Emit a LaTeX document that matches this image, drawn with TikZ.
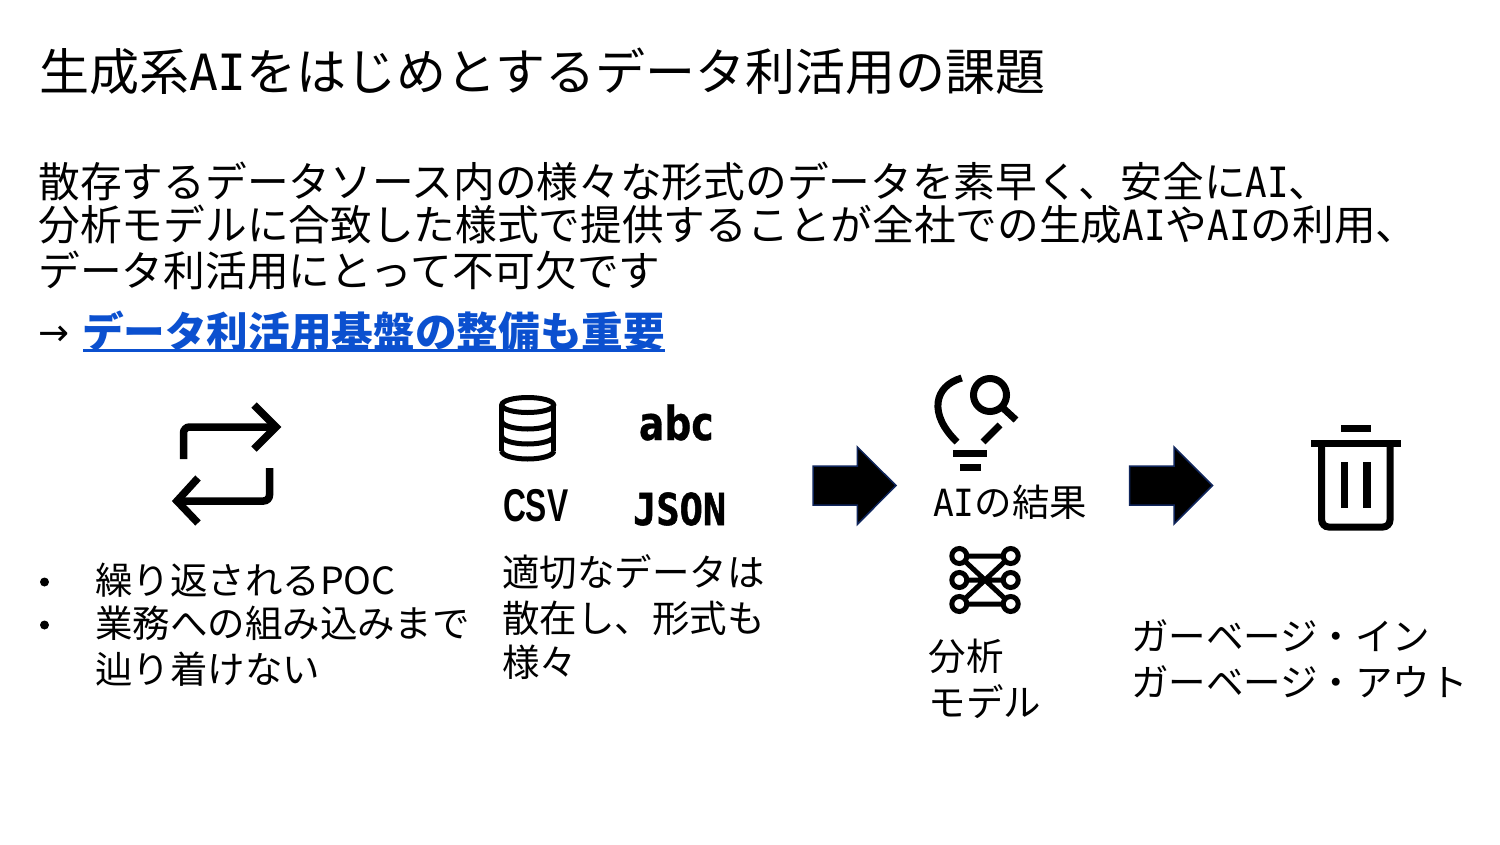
\documentclass[tikz,border=0pt]{standalone}
\usepackage{fontspec}
\setmainfont{Noto Sans CJK JP}
\newfontfamily\titleai[FakeStretch=0.96]{DejaVu Sans Mono}
\newfontfamily\bodyai[FakeStretch=0.86]{DejaVu Sans Mono}
\newfontfamily\smallai[FakeStretch=0.92]{DejaVu Sans Mono}
\newfontfamily\iconreg[FakeStretch=0.8,FakeBold=0.6]{DejaVu Sans Bold}
\newfontfamily\iconcsv[FakeStretch=0.69]{Liberation Sans Bold}
\newfontfamily\iconjson[FakeStretch=0.88,FakeBold=1.2]{DejaVu Sans Mono Bold}
\newfontfamily\arrowfont{DejaVu Sans}
\newcommand{\AIb}{{\bodyai AI}}
\newcommand{\fsz}[1]{\fontsize{#1pt}{#1pt}\selectfont}
\definecolor{linkblue}{HTML}{0B50CF}
\definecolor{arrowedge}{HTML}{10265C}
\tikzset{
  txt/.style={anchor=base west,inner sep=0pt,outer sep=0pt,text=black},
  title/.style={txt,font=\fsz{50}},
  body/.style={txt,font=\fsz{41.7}},
  small/.style={txt,font=\fsz{37.5}},
  icon/.style={line width=#1,draw=black,fill=none},
  blockarrow/.style={fill=black,draw=arrowedge,line width=1.5pt,line join=miter}
}
\begin{document}
\begin{tikzpicture}[x=1pt,y=-1pt]
\useasboundingbox (0,0) rectangle (1500,844);
\fill[white] (0,0) rectangle (1500,844);
\node[title] (t) at (39,90) {生成系{\titleai AI}をはじめとするデータ利活用の課題};
\node[body] (l1) at (38.5,197) {散存するデータソース内の様々な形式のデータを素早く、安全に\AIb 、};
\node[body] (l2) at (38.5,240.5) {分析モデルに合致した様式で提供することが全社での生成\AIb や\AIb の利用、};
\node[body] (l3) at (38.5,286) {データ利活用にとって不可欠です};
\node[txt,font=\fsz{37}\arrowfont] (ar) at (38,345) {→};
\node[body,font=\fsz{41.65}\bfseries,text=linkblue] (lk) at (82,347) {データ利活用基盤の整備も重要};
\draw[linkblue,line width=3pt] (83,350.5) -- (665,350.5);
% repeat icon
\draw[icon=7.5pt,rounded corners=6pt] (183.5,459) -- (183.5,427) -- (276,427);
\draw[icon=7.5pt,line join=miter] (254,405) -- (276,427) -- (254,449);
\draw[icon=7.5pt,rounded corners=6pt] (269.5,468) -- (269.5,501) -- (177,501);
\draw[icon=7.5pt,line join=miter] (198,478) -- (177,501) -- (198,523);
% database
\begin{scope}[line width=5pt,draw=black]
\draw (527.7,405) ellipse[x radius=26,y radius=7.5];
\draw (501.7,405) -- (501.7,451);
\draw (553.7,405) -- (553.7,451);
\draw (501.7,451) arc[start angle=180,end angle=0,x radius=26,y radius=8];
\draw (501.7,421) arc[start angle=180,end angle=0,x radius=26,y radius=8];
\draw (501.7,436) arc[start angle=180,end angle=0,x radius=26,y radius=8];
\end{scope}
\node[txt,font=\fsz{47}\iconreg] (abc) at (639,440) {abc};
\node[txt,font=\fsz{46}\iconcsv] (csv) at (503,521) {CSV};
\node[txt,font=\fsz{44}\iconjson] (json) at (633,525) {JSON};
% block arrows
\draw[blockarrow] (813,466) -- (857.3,466) -- (857.3,447) -- (896,485.5) -- (857.3,524.5) -- (857.3,505) -- (813,505) -- cycle;
\draw[blockarrow] (1129.5,466) -- (1174,466) -- (1174,447) -- (1212.5,485.5) -- (1174,524) -- (1174,505) -- (1129.5,505) -- cycle;
% bulb
\draw[icon=7pt,line cap=butt] (961.7,378) .. controls (934,386) and (928,414) .. (957,442);
\draw[icon=7pt] (1000,425) -- (983,442);
\draw[icon=7pt] (990,395) circle[radius=16.5];
\draw[icon=7pt] (1003,408) -- (1016,420);
\fill[black] (953,450) rectangle (987,457);
\fill[black] (960,464) rectangle (981,470.5);
\node[small] (ai) at (933,516) {{\smallai AI}の結果};
% model icon
\foreach \nm/\xx/\yy in {a/959.3/556,b/959.3/580,c/959.3/604,d/1010.7/556,e/1010.7/580,f/1010.7/604}{
  \coordinate (\nm) at (\xx,\yy);
}
\draw[icon=5pt] (a) -- (d) (c) -- (f) (a) -- (f) (c) -- (d) (b) -- (e);
\foreach \nm in {a,b,c,d,e,f}{
  \draw[icon=5pt,fill=white] (\nm) circle[radius=7.5];
}
% trash
\fill[black] (1340.7,425) rectangle (1370.7,432.3);
\fill[black] (1310.7,440) rectangle (1401,447.3);
\draw[icon=7pt,rounded corners=7pt] (1321.7,444) -- (1321.7,527) -- (1390,527) -- (1390,444);
\fill[black] (1340.7,462) rectangle (1348,508);
\fill[black] (1363,462) rectangle (1370.7,508);
% bullets
\fill[black] (44.5,582) circle[radius=4.5];
\fill[black] (44.5,625) circle[radius=4.5];
\node[small] (b1) at (95,594) {繰り返されるPOC};
\node[small] (b2) at (95,637.5) {業務への組み込みまで};
\node[small] (b3) at (95,683) {辿り着けない};
\node[small] (c1) at (502,586) {適切なデータは};
\node[small] (c2) at (502,632) {散在し、形式も};
\node[small] (c3) at (502,676) {様々};
\node[small] (m1) at (928.5,670) {分析};
\node[small] (m2) at (928.5,716) {モデル};
\node[small] (g1) at (1131,650) {ガーベージ・イン};
\node[small] (g2) at (1131,696) {ガーベージ・アウト};
\end{tikzpicture}
\end{document}
